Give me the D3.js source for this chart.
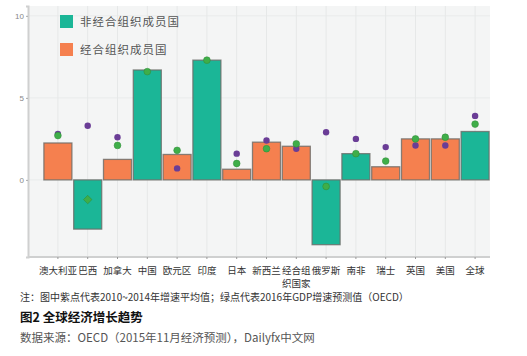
<!DOCTYPE html>
<html>
<head>
<meta charset="utf-8">
<script src="https://cdn.jsdelivr.net/npm/d3@7"></script>
<style>
  body { margin: 0; background: #fff; font-family: "Noto Sans CJK SC", "Noto Sans", sans-serif; }
</style>
</head>
<body>
<div id="chart"></div>
<script>
// data
var countries = ["澳大利亚", "巴西", "加拿大", "中国", "欧元区", "印度", "日本", "新西兰", "经合组织国家", "俄罗斯", "南非", "瑞士", "英国", "美国", "全球"];
var oecdMember = [true, false, true, false, true, false, true, true, true, false, false, true, true, true, false];
var barValues = [2.25, -3.0, 1.25, 6.7, 1.55, 7.3, 0.65, 2.3, 2.05, -3.95, 1.6, 0.8, 2.5, 2.5, 2.95];
var purpleValues = [2.8, 3.3, 2.6, null, 0.7, null, 1.6, 2.4, 1.9, 2.9, 2.5, 2.0, 2.1, 2.1, 3.9];
var greenValues = [2.7, -1.2, 2.1, 6.6, 1.8, 7.3, 1.0, 1.9, 2.2, -0.4, 1.6, 1.15, 2.5, 2.6, 3.4];
var yTicks = [0, 5, 10];

var tealColor = "#1bb697", orangeColor = "#f5804f";

function drawChart(){
    var W = 527, H = 356;
    var margin = { left: 28, right: 37, top: 6, bottom: 99 };
    var width = W - margin.left - margin.right,
        height = H - margin.top - margin.bottom;

    var svg = d3.select("#chart").append("svg")
        .attr("width", W).attr("height", H);
    var g = svg.append("g")
        .attr("transform", "translate(" + margin.left + "," + margin.top + ")");

    // plot background
    g.append("rect").attr("width", width).attr("height", height).attr("fill", "#f4f5f5");

    var x = d3.scaleBand().domain(countries).range([15, width]).paddingInner(0.06).paddingOuter(0.03);
    var y = d3.scaleLinear().domain([-4.7, 10.6]).range([height, 0]);

    // grid
    g.selectAll(".hgrid").data(yTicks).enter().append("line")
        .attr("x1", 0).attr("x2", width)
        .attr("y1", function(d){ return y(d); }).attr("y2", function(d){ return y(d); })
        .attr("stroke", "#e9ebeb").attr("stroke-width", 1);
    g.selectAll(".vgrid").data(countries).enter().append("line")
        .attr("x1", function(d){ return x(d) + x.bandwidth() / 2; })
        .attr("x2", function(d){ return x(d) + x.bandwidth() / 2; })
        .attr("y1", 0).attr("y2", height)
        .attr("stroke", "#e6e8e8").attr("stroke-width", 1);

    // axes
    var yAxis = g.append("g").call(d3.axisLeft(y).tickValues(yTicks).tickSize(2));
    yAxis.select(".domain").attr("stroke", "#cfd0d0").attr("stroke-width", 2);
    yAxis.selectAll(".tick line").attr("stroke", "#aaa");
    yAxis.selectAll(".tick text").attr("fill", "#888").attr("font-size", "8px").attr("x", -4);

    var xAxis = g.append("g").attr("transform", "translate(0," + height + ")")
        .call(d3.axisBottom(x).tickSize(2).tickFormat(""));
    xAxis.select(".domain").attr("d", "M0,0H" + width).attr("stroke", "#cfd0d0").attr("stroke-width", 2);
    xAxis.selectAll(".tick line").attr("stroke", "#999");

    // x labels (OECD label wraps to two lines)
    var labels = g.append("g").selectAll("text").data(countries).enter().append("text")
        .attr("x", function(d){ return x(d) + x.bandwidth() / 2; })
        .attr("y", height + 17)
        .attr("text-anchor", "middle")
        .attr("font-size", "9.5px")
        .attr("fill", "#333");
    labels.each(function(d){
        var t = d3.select(this);
        if (d === "经合组织国家") {
            t.append("tspan").text("经合组");
            t.append("tspan").attr("x", x(d) + x.bandwidth() / 2).attr("dy", "1.35em").text("织国家");
        } else {
            t.text(d);
        }
    });

    // bars
    g.selectAll(".bar").data(countries).enter().append("rect")
        .attr("x", function(d){ return x(d); })
        .attr("width", x.bandwidth())
        .attr("y", function(d, i){ return y(Math.max(0, barValues[i])); })
        .attr("height", function(d, i){ return Math.abs(y(barValues[i]) - y(0)); })
        .attr("fill", function(d, i){ return oecdMember[i] ? orangeColor : tealColor; })
        .attr("stroke", "#6b6b68").attr("stroke-opacity", 0.8).attr("stroke-width", 1.3);

    // purple points: 2010-2014 average
    g.selectAll(".pdot").data(countries.filter(function(d, i){ return purpleValues[i] !== null; }))
        .enter().append("circle")
        .attr("cx", function(d){ return x(d) + x.bandwidth() / 2; })
        .attr("cy", function(d){ return y(purpleValues[countries.indexOf(d)]); })
        .attr("r", 3.2)
        .attr("fill", "#6a3d96");

    // green points: 2016 forecast (Brazil drawn as a diamond)
    var sym = d3.symbol().size(36);
    g.selectAll(".gdot").data(countries).enter().append("path")
        .attr("transform", function(d, i){
            return "translate(" + (x(d) + x.bandwidth() / 2) + "," + y(greenValues[i]) + ")" + (d === "巴西" ? " rotate(45)" : "");
        })
        .attr("d", function(d){ return sym.type(d === "巴西" ? d3.symbolSquare : d3.symbolCircle)(); })
        .attr("fill", "#3fae49")
        .attr("stroke", "#2e8a36").attr("stroke-width", 0.5);

    // legend
    var legend = [["非经合组织成员国", tealColor], ["经合组织成员国", orangeColor]];
    var lg = svg.append("g").attr("transform", "translate(60,15)");
    lg.selectAll("rect").data(legend).enter().append("rect")
        .attr("x", 0).attr("y", function(d, i){ return i * 28; })
        .attr("width", 13).attr("height", 13)
        .attr("fill", function(d){ return d[1]; });
    lg.selectAll("text").data(legend).enter().append("text")
        .attr("x", 20).attr("y", function(d, i){ return i * 28 + 11; })
        .attr("font-size", "11.5px").attr("fill", "#555").attr("letter-spacing", "1px")
        .text(function(d){ return d[0]; });

    // notes below
    svg.append("text").attr("x", 20).attr("y", 301)
        .attr("font-size", "10px").attr("fill", "#333")
        .text("注：图中紫点代表2010~2014年增速平均值；绿点代表2016年GDP增速预测值（OECD）");
    svg.append("text").attr("x", 20).attr("y", 322)
        .attr("font-size", "12.5px").attr("fill", "#111").attr("font-weight", "bold")
        .text("图2 全球经济增长趋势");
    svg.append("text").attr("x", 20).attr("y", 342)
        .attr("font-size", "11.5px").attr("fill", "#555")
        .text("数据来源：OECD（2015年11月经济预测），Dailyfx中文网");
}

drawChart();
</script>
</body>
</html>
